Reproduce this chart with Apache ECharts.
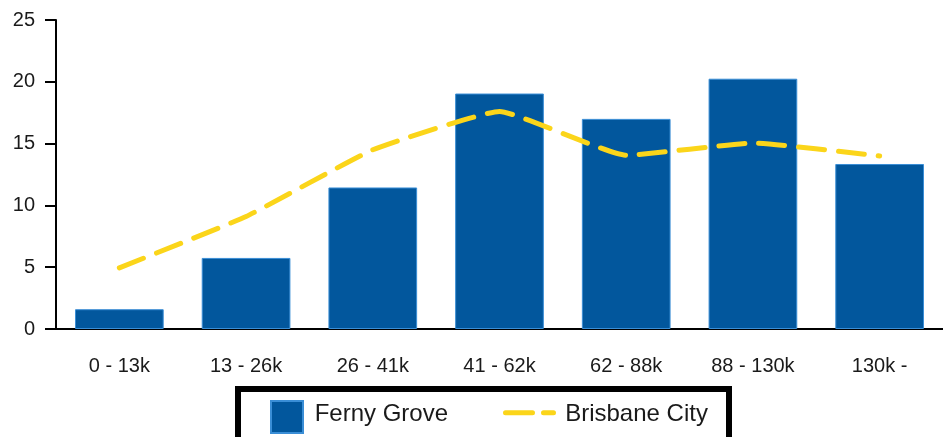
<!DOCTYPE html>
<html>
<head>
<meta charset="utf-8">
<script src="https://cdn.jsdelivr.net/npm/echarts@6/dist/echarts.min.js"></script>
<style>
  html, body { margin: 0; padding: 0; background: #fff; }
  #chart { width: 943px; height: 437px; }
</style>
</head>
<body>
<div id="chart"></div>
<script>
const categories = ['0 - 13k', '13 - 26k', '26 - 41k', '41 - 62k', '62 - 88k', '88 - 130k', '130k -']
const fernyGrove = [1.6, 5.75, 11.45, 19.05, 17.0, 20.25, 13.35]
const brisbaneCity = [4.95, 9.1, 14.5, 17.6, 14.05, 15.05, 14.0]

const font = 'Liberation Sans, Arial, sans-serif'
const ink = '#1a1a1a'
const barBlue = '#02579d'
const lineYellow = '#fbd51a'
const dash = [26, 14]

const chart = echarts.init(document.getElementById('chart'))

function legendText(pad) {
  return {
    fontSize: 24,
    color: ink,
    fontFamily: font,
    rich: { t: { fontSize: 24, color: ink, fontFamily: font, padding: pad } },
  }
}

chart.setOption({
  animation: false,
  textStyle: { fontFamily: font },
  grid: { left: 56, right: -9, top: 20, bottom: 108 },
  xAxis: {
    type: 'category',
    data: categories,
    axisLine: { lineStyle: { color: '#000', width: 2 } },
    axisTick: { alignWithLabel: true, length: 11, lineStyle: { color: '#000', width: 2 } },
    axisLabel: { color: ink, fontSize: 20, margin: 27, fontFamily: font },
  },
  yAxis: {
    type: 'value',
    min: 0,
    max: 25,
    interval: 5,
    axisLine: { show: true, lineStyle: { color: '#000', width: 2 } },
    axisTick: { show: true, length: 11, lineStyle: { color: '#000', width: 2 } },
    axisLabel: { color: ink, fontSize: 20, margin: 21, fontFamily: font },
    splitLine: { show: false },
  },
  graphic: [
    {
      type: 'rect',
      shape: { x: 238, y: 389, width: 491, height: 70 },
      style: { fill: '#fff', stroke: '#000', lineWidth: 6 },
      z: 0,
    },
  ],
  legend: [
    {
      data: ['Ferny Grove'],
      left: 270,
      top: 400,
      padding: 0,
      itemWidth: 32,
      itemHeight: 32,
      icon: 'rect',
      formatter: name => '{t| ' + name + '}',
      textStyle: legendText([0, 0, 6, 0]),
    },
    {
      data: ['Brisbane City'],
      left: 503,
      top: 400,
      padding: 0,
      itemWidth: 48,
      itemHeight: 32,
      itemStyle: { color: 'rgba(0,0,0,0)', borderWidth: 0 },
      lineStyle: { color: lineYellow, width: 5, type: [27, 11] },
      formatter: name => '{t| ' + name + '}',
      textStyle: legendText([4, 0, 0, 0]),
    },
  ],
  series: [
    {
      name: 'Ferny Grove',
      type: 'bar',
      data: fernyGrove,
      barWidth: '70%',
      itemStyle: { color: barBlue, borderColor: '#3a8ed6', borderWidth: 1 },
    },
    {
      name: 'Brisbane City',
      type: 'line',
      data: brisbaneCity,
      symbol: 'none',
      smooth: 0.12,
      lineStyle: { color: lineYellow, width: 5, type: dash, cap: 'round' },
      itemStyle: { color: lineYellow },
      z: 3,
    },
  ],
})
</script>
</body>
</html>
